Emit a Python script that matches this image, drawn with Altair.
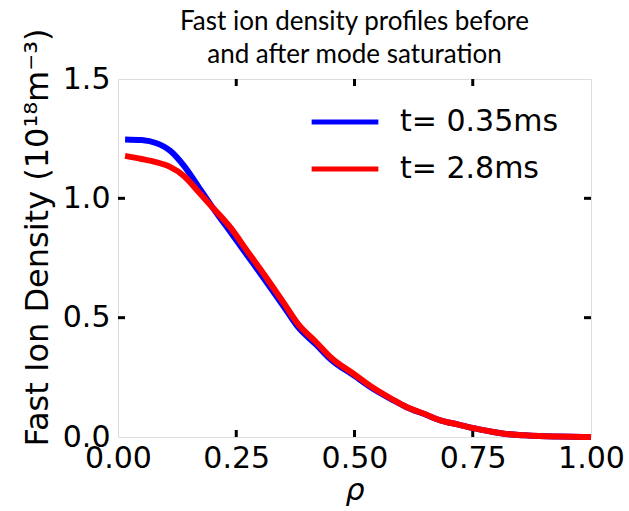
import altair as alt
import pandas as pd

# ---- data ----
rho = [0.015, 0.05, 0.08, 0.11, 0.14, 0.17, 0.20, 0.24, 0.27, 0.31, 0.35, 0.38,
       0.42, 0.45, 0.50, 0.54, 0.58, 0.61, 0.65, 0.68, 0.72, 0.75, 0.79, 0.82,
       0.86, 0.89, 0.93, 0.96, 1.00]
dens_035 = [1.247, 1.244, 1.232, 1.200, 1.135, 1.049, 0.962, 0.853, 0.77, 0.66,
            0.548, 0.462, 0.385, 0.325, 0.256, 0.201, 0.156, 0.125, 0.094, 0.071,
            0.052, 0.038, 0.022, 0.013, 0.007, 0.004, 0.002, 0.001, 0.0]
dens_28 = [1.178, 1.165, 1.152, 1.132, 1.093, 1.028, 0.962, 0.872, 0.788, 0.678,
           0.563, 0.475, 0.395, 0.333, 0.262, 0.205, 0.158, 0.126, 0.095, 0.071,
           0.052, 0.038, 0.022, 0.013, 0.007, 0.004, 0.002, 0.001, 0.0]
series_names = ["t= 0.35ms", "t= 2.8ms"]
series_colors = ["#0000ff", "#ff0000"]
x_tick_values = [0.0, 0.25, 0.5, 0.75, 1.0]
y_tick_values = [0.0, 0.5, 1.0, 1.5]
x_inner_ticks = [0.25, 0.5, 0.75]
y_inner_ticks = [0.5, 1.0]

df = pd.concat([
    pd.DataFrame({"rho": rho, "density": dens_035, "series": series_names[0]}),
    pd.DataFrame({"rho": rho, "density": dens_28, "series": series_names[1]}),
])
xt = pd.DataFrame({"v": x_inner_ticks})
yt = pd.DataFrame({"v": y_inner_ticks})

W, H = 473, 358
FONT = "DejaVu Sans"

x_scale = alt.Scale(domain=[0, 1], nice=False, zero=False)
y_scale = alt.Scale(domain=[0, 1.5], nice=False, zero=False)

lines = alt.Chart(df).mark_line(strokeWidth=6, interpolate="monotone").encode(
    x=alt.X("rho:Q", scale=x_scale,
            axis=alt.Axis(values=x_tick_values, format=".2f", title="ρ",
                          titleFontStyle="italic", titleFont=FONT,
                          titleFontSize=30, titleFontWeight="normal",
                          titleColor="black", titlePadding=2,
                          labelFont=FONT, labelFontSize=30, labelColor="black",
                          labelPadding=6, labelFlush=False, labelOverlap=False,
                          domain=False, ticks=False, grid=False)),
    y=alt.Y("density:Q", scale=y_scale,
            axis=alt.Axis(values=y_tick_values, format=".1f",
                          title="Fast Ion Density (10¹⁸m⁻³)",
                          titleFont=FONT, titleFontSize=32,
                          titleFontWeight="normal", titleColor="black",
                          titleX=-64, titleY=158, titleAngle=270,
                          titleAlign="center", titleBaseline="bottom",
                          labelFont=FONT, labelFontSize=30, labelColor="black",
                          labelPadding=8, labelFlush=False, labelOverlap=False,
                          domain=False, ticks=False, grid=False)),
    color=alt.Color("series:N",
                    scale=alt.Scale(domain=series_names, range=series_colors),
                    sort=series_names,
                    legend=alt.Legend(title=None, orient="none",
                                      legendX=210, legendY=26,
                                      symbolType="M-2.3,0H2.3", symbolSize=841,
                                      symbolStrokeWidth=5,
                                      labelFont=FONT, labelFontSize=30,
                                      labelColor="black", labelOffset=38,
                                      rowPadding=15, padding=0)),
)

tick_style = dict(color="black", strokeWidth=3)
xb = alt.Chart(xt).mark_rule(**tick_style).encode(
    x=alt.X("v:Q", scale=x_scale), y=alt.value(H), y2=alt.value(H - 7))
xtop = alt.Chart(xt).mark_rule(**tick_style).encode(
    x=alt.X("v:Q", scale=x_scale), y=alt.value(0), y2=alt.value(7))
yl = alt.Chart(yt).mark_rule(**tick_style).encode(
    y=alt.Y("v:Q", scale=y_scale), x=alt.value(0), x2=alt.value(7))
yr = alt.Chart(yt).mark_rule(**tick_style).encode(
    y=alt.Y("v:Q", scale=y_scale), x=alt.value(W), x2=alt.value(W - 7))

chart = alt.layer(xb, xtop, yl, yr, lines).properties(
    width=W, height=H,
    title=alt.TitleParams(
        text=["Fast ion density profiles before", "and after mode saturation"],
        font="Lato", fontSize=26, fontWeight="normal", color="black",
        anchor="middle", offset=14, lineHeight=33, dy=54),
    autosize=alt.AutoSizeParams(type="none"),
    padding={"left": 118, "top": 79, "right": 38, "bottom": 74},
).configure_view(
    stroke="black", strokeWidth=5
).configure(background="white")

chart.save("out.html", embed_options={"renderer": "svg", "actions": False})
